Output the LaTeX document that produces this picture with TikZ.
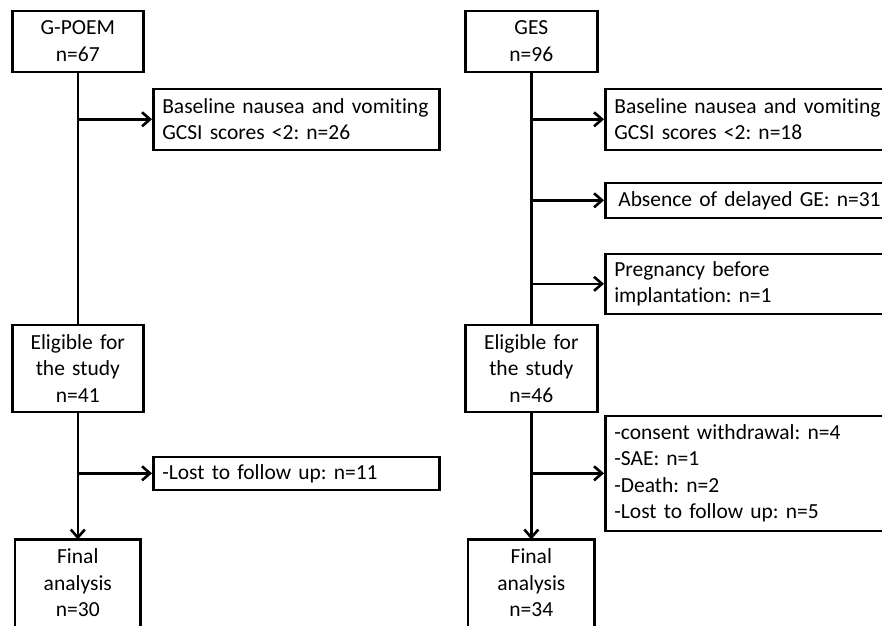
\documentclass[tikz,border=0pt]{standalone}
\usepackage{fontspec}
\setmainfont{Carlito}[RawFeature=-liga]
\frenchspacing
\usetikzlibrary{arrows.meta}
\begin{document}
\begin{tikzpicture}[x=1pt,y=-1pt,
  box/.style={draw, line width=2.6pt, anchor=north west, inner ysep=0pt, inner xsep=9pt,
    font=\fontsize{21.5}{26.5}\selectfont},
  cbox/.style={box, align=center},
  lbox/.style={box, align=left},
  fbox/.style={cbox, draw=none},
  conn/.style={line width=2.6pt},
  arr/.style={conn, -{Straight Barb[length=8pt,width=14pt]}}]
\clip (0,0) rectangle (882,625);
% left column
\node[cbox, text width=113, minimum height=61] (gp) at (11,9.5) {G-POEM\\n=67};
\node[lbox, text width=268, minimum height=61] (b1) at (152,87.5) {Baseline nausea and vomiting\\GCSI scores <2: n=26};
\node[cbox, text width=113, minimum height=87] (el1) at (11,323.5) {Eligible for\\the study\\n=41};
\node[lbox, text width=268, minimum height=33] (lost) at (152,455.5) {-Lost to follow up: n=11};
\node[fbox, text width=105, minimum height=84] (fin1) at (15,539.5) {Final\\analysis\\n=30};
\draw[conn] (fin1.north west) rectangle ([yshift=-30pt]fin1.south east);
% right column
\node[cbox, text width=114, minimum height=61] (ges) at (464,9.5) {GES\\n=96};
\node[lbox, text width=282, minimum height=61] (b2) at (604,87.5) {Baseline nausea and vomiting\\GCSI scores <2: n=18};
\node[lbox, minimum height=35, inner xsep=13pt, text width=274] (b3) at (604,181.5) {Absence of delayed GE: n=31};
\node[lbox, text width=282, minimum height=60] (b4) at (604,252.5) {Pregnancy before\\implantation: n=1};
\node[cbox, text width=114, minimum height=87] (el2) at (464,323.5) {Eligible for\\the study\\n=46};
\node[lbox, text width=282, minimum height=115] (cons) at (604,414.5) {-consent withdrawal: n=4\\-SAE: n=1\\-Death: n=2\\-Lost to follow up: n=5};
\node[fbox, text width=106, minimum height=84] (fin2) at (468,539.5) {Final\\analysis\\n=34};
\draw[conn] (fin2.north west) rectangle ([yshift=-30pt]fin2.south east);
% connectors left
\draw[conn] (gp.south) -- (el1.north);
\draw[arr] (gp.south |- b1.west) -- (b1.west);
\draw[arr] (el1.south) -- (fin1.north);
\draw[arr] (el1.south |- lost.west) -- (lost.west);
% connectors right
\draw[conn] (ges.south) -- (el2.north);
\draw[arr] (ges.south |- b2.west) -- (b2.west);
\draw[arr] (ges.south |- b3.west) -- (b3.west);
\draw[arr] (ges.south |- b4.west) -- (b4.west);
\draw[arr] (el2.south) -- (fin2.north);
\draw[arr] (el2.south |- cons.west) -- (cons.west);
\end{tikzpicture}
\end{document}
